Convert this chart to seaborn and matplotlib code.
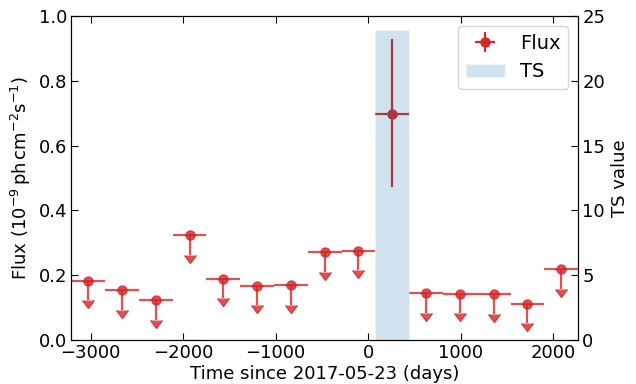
import numpy as np
import matplotlib
matplotlib.use('Agg')
import matplotlib.pyplot as plt
import seaborn as sns

sns.set_style("ticks", {"xtick.direction": "in", "ytick.direction": "in",
                        "axes.edgecolor": "black", "text.color": "black",
                        "axes.labelcolor": "black", "xtick.color": "black",
                        "ytick.color": "black"})
plt.rcParams['font.family'] = ['DejaVu Sans']

# bin centres (days since 2017-05-23) and half width
t_mid = [-3026.5, -2661.5, -2296.5, -1931.5, -1566.5, -1201.5, -836.5, -471.5,
         -106.5, 258.5, 623.5, 988.5, 1353.5, 1718.5, 2083.5]
t_half = 182.5
flux = [0.183, 0.153, 0.122, 0.323, 0.188, 0.167, 0.169, 0.271,
        0.275, 0.697, 0.144, 0.143, 0.141, 0.111, 0.218]
is_ul = [True, True, True, True, True, True, True, True,
         True, False, True, True, True, True, True]
flux_err_lo = 0.224
flux_err_hi = 0.232
ts = [0, 0, 0, 0.1, 0, 0, 0, 0, 0, 23.9, 0, 0, 0, 0, 0]

t_mid = np.array(t_mid)
flux = np.array(flux)
is_ul = np.array(is_ul)

fig, ax = plt.subplots(figsize=(6.36, 3.84), dpi=100)
fig.subplots_adjust(left=0.112, right=0.909, top=0.958, bottom=0.115)

# upper limits: horizontal bin bars, then down arrows
ax.errorbar(t_mid[is_ul], flux[is_ul], xerr=t_half, fmt='o',
            color='tab:red', alpha=0.8, ms=6.5, lw=1.6, capsize=0)
ax.errorbar(t_mid[is_ul], flux[is_ul], yerr=0.06, uplims=True, fmt='none',
            color='tab:red', ecolor='tab:red', alpha=0.8, lw=1.6, capsize=4)
# detection
det = ax.errorbar(t_mid[~is_ul], flux[~is_ul], xerr=t_half,
                  yerr=[[flux_err_lo], [flux_err_hi]],
                  fmt='o', color='tab:red', ms=6.5, lw=1.6, label='Flux')

ax.set_xlim(t_mid[0] - t_half, t_mid[-1] + t_half)
ax.set_ylim(0, 1.0)
ax.set_xticks([-3000, -2000, -1000, 0, 1000, 2000])
ax.set_yticks([0, 0.2, 0.4, 0.6, 0.8, 1.0])
ax.set_xlabel('Time since 2017-05-23 (days)', fontsize=13, labelpad=2)
ax.set_ylabel(r'Flux ($10^{-9}\,$ph$\,$cm$^{-2}$s$^{-1}$)', fontsize=13)
ax.tick_params(axis='both', direction='in', labelsize=13, top=True, length=5,
               color='black', pad=3)

ax2 = ax.twinx()
bars = ax2.bar(t_mid, ts, width=2 * t_half, color='tab:blue', alpha=0.2,
               label='TS')
ax2.set_ylim(0, 25)
ax2.set_yticks([0, 5, 10, 15, 20, 25])
ax2.set_ylabel('TS value', fontsize=13)
ax2.tick_params(axis='y', direction='in', labelsize=13, length=5, color='black',
                pad=3)

ax2.legend([det, bars], ['Flux', 'TS'], loc='upper right', fontsize=14)

fig.savefig('out.png', dpi=100)
